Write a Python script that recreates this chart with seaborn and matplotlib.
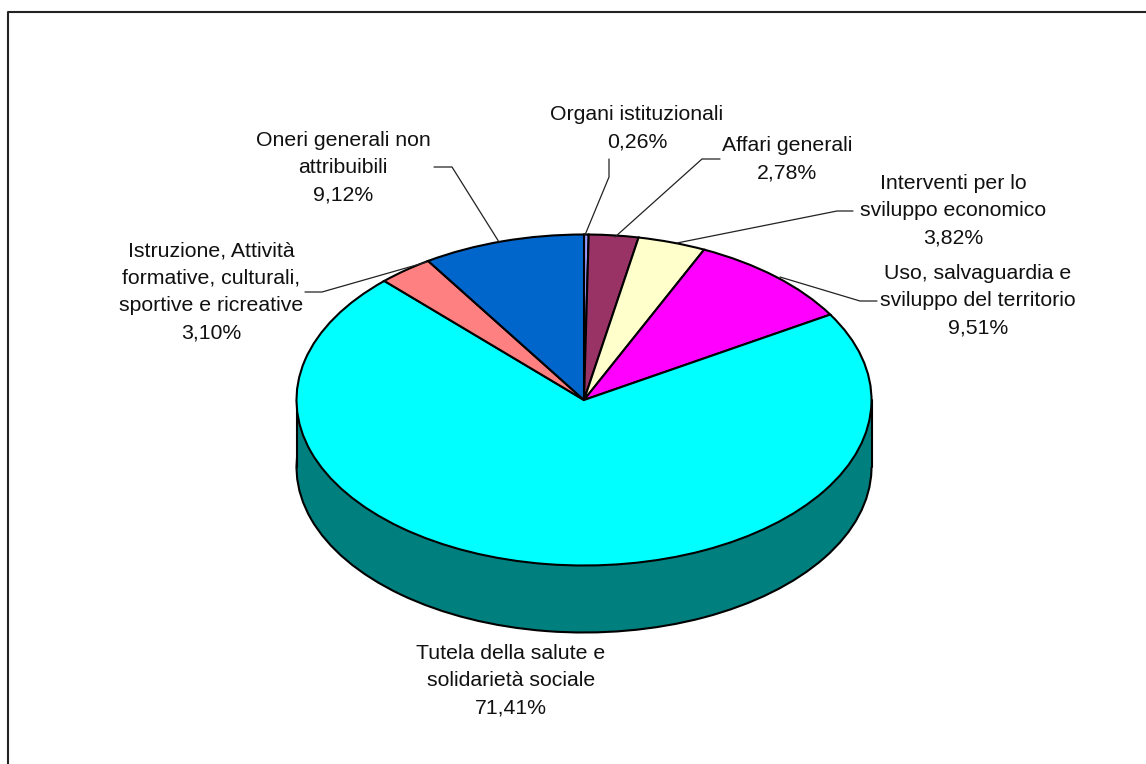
import matplotlib
matplotlib.use('Agg')
import matplotlib.pyplot as plt
import seaborn as sns

sns.set_style('white')
plt.rcParams['font.family'] = ['Liberation Sans', 'DejaVu Sans']

# dati
categories = ['Organi istituzionali', 'Affari generali',
              'Interventi per lo\nsviluppo economico',
              'Uso, salvaguardia e\nsviluppo del territorio',
              'Tutela della salute e\nsolidarietà sociale',
              'Istruzione, Attività\nformative, culturali,\nsportive e ricreative',
              'Oneri generali non\nattribuibili']
shares = [0.26, 2.78, 3.82, 9.51, 71.41, 3.10, 9.12]
share_labels = ['0,26%', '2,78%', '3,82%', '9,51%', '71,41%', '3,10%', '9,12%']
top_colors = ['#9999FF', '#993366', '#FFFFCC', '#FF00FF', '#00FFFF', '#FF8080', '#0066CC']
side_colors = ['#4C4C7F', '#4C1933', '#7F7F66', '#7F007F', '#007F7F', '#7F4040', '#003366']

W, H = 1146, 764
CX, CY, RX, RY, DEPTH = 584, 400, 287.5, 165.5, 67


def px(x, y):
    # pixel del riferimento -> coordinate dati della torta
    return (x - CX) / RX, (CY - y) / RY


fig = plt.figure(figsize=(W / 100, H / 100), dpi=100)
ax = fig.add_axes([0, 0, 1, 1])

# spessore: stessa torta spostata in basso + parete
ax.pie(shares, colors=side_colors, startangle=90, counterclock=False,
       center=(0, -DEPTH / RY), wedgeprops={'edgecolor': 'black', 'linewidth': 1.5})
ax.fill_between([-1, 1], [-DEPTH / RY] * 2, [0, 0], color=side_colors[4], lw=0, zorder=2)
ax.plot([-1, -1], [0, -DEPTH / RY], color='black', lw=1.5, zorder=3)
ax.plot([1, 1], [0, -DEPTH / RY], color='black', lw=1.5, zorder=3)

# faccia superiore
wedges, _ = ax.pie(shares, colors=top_colors, startangle=90, counterclock=False,
                   wedgeprops={'edgecolor': 'black', 'linewidth': 1.5})
for w in wedges:
    w.set_zorder(4)

ax.set_aspect('auto')
ax.set_xlim(px(0, 0)[0], px(W, 0)[0])
ax.set_ylim(px(0, H)[1], px(0, 0)[1])
ax.axis('off')

# cornice del grafico (solo sopra e a sinistra nel riferimento)
x0, y0 = px(7.5, 11.5)
ax.plot([x0, x0, px(W, 0)[0]], [px(0, H)[1], y0, y0], color='#222222', lw=1.5, clip_on=False)

# etichette: centro x, centro y del blocco
label_pos = [(637, 128), (787, 159), (953, 211), (978, 300.5), (511, 681), (211, 292), (343, 167.5)]
leaders = [
    [(609, 159), (609, 177), (585, 235)],
    [(720, 159), (702, 159), (615, 237)],
    [(853, 211), (837, 211), (677, 243)],
    [(877, 301), (860, 301), (780, 277)],
    None,
    [(305, 292), (322, 292), (427, 262)],
    [(434, 167), (452, 167), (499, 242)],
]

for name, lab, pos, lead in zip(categories, share_labels, label_pos, leaders):
    ax.text(*px(*pos), name + '\n' + lab, ha='center', va='center', fontsize=15.3,
            linespacing=1.54, color='#111111', zorder=6)
    if lead:
        xs, ys = zip(*[px(*p) for p in lead])
        ax.plot(xs, ys, color='#222222', lw=0.9, zorder=5)

fig.savefig('out.png', dpi=100, facecolor='white')
